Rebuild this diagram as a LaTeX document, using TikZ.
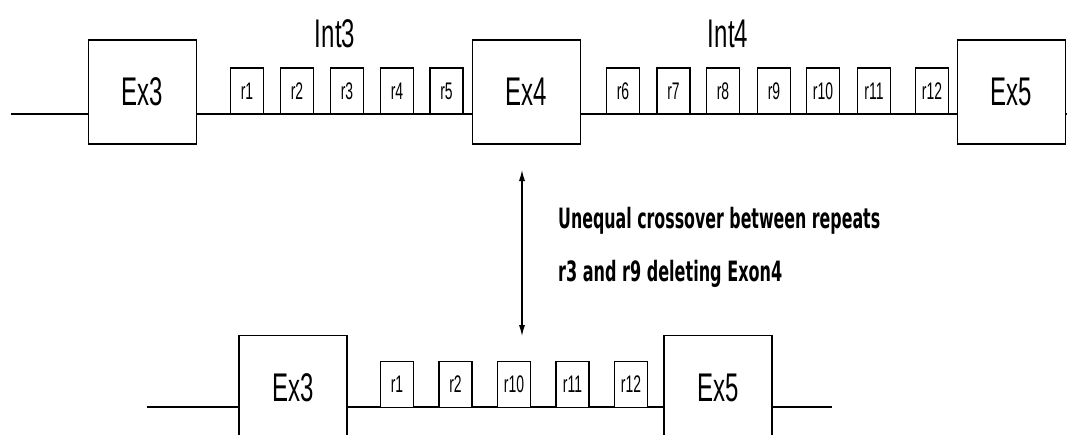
\documentclass[tikz,border=0pt]{standalone}
\usepackage{fontspec}
\usepackage{graphicx}
\usetikzlibrary{arrows.meta}
\newfontfamily\arialf{Liberation Sans}
\newfontfamily\dvsf{DejaVu Sans}
\newcommand{\exlab}[1]{\scalebox{0.6}[1]{\arialf\fontsize{40}{40}\selectfont #1}}
\newcommand{\rlab}[1]{\scalebox{0.58}[1]{\arialf\fontsize{24}{24}\selectfont #1}}
\tikzset{
  exonbox/.style={draw, line width=1.6pt, fill=white, inner sep=0pt, minimum width=108pt, minimum height=104pt},
  rbox/.style={draw, line width=1.4pt, fill=white, inner sep=0pt, minimum width=33pt, minimum height=46pt},
  intlab/.style={inner sep=0pt},
  chrom/.style={line width=1.8pt},
  note/.style={anchor=base west, inner sep=0pt},
}
\begin{document}
\begin{tikzpicture}[x=1pt,y=-1pt]
\useasboundingbox (0,0) rectangle (1067,434);
\clip (0,0) rectangle (1067,434);
% ---------- top row ----------
\coordinate (ls) at (11,114);
\coordinate (le) at (1067,114);
\node[exonbox] (ex3) at (142.5,92) {\exlab{Ex3}};
\node[exonbox] (ex4) at (526.5,92) {\exlab{Ex4}};
\node[exonbox] (ex5) at (1011.5,92) {\exlab{Ex5}};
\draw[chrom] (ls) -- (ls -| ex3.west);
\draw[chrom] (ls -| ex3.east) -- (ls -| ex4.west);
\draw[chrom] (ls -| ex4.east) -- (ls -| ex5.west);
\draw[chrom] (ls -| ex5.east) -- (le);
\node[rbox] (r1) at (247,91) {\rlab{r1}};
\node[rbox] (r2) at (297,91) {\rlab{r2}};
\node[rbox] (r3) at (347,91) {\rlab{r3}};
\node[rbox] (r4) at (397,91) {\rlab{r4}};
\node[rbox] (r5) at (446.5,91) {\rlab{r5}};
\node[rbox] (r6) at (623,91) {\rlab{r6}};
\node[rbox] (r7) at (673.5,91) {\rlab{r7}};
\node[rbox] (r8) at (723,91) {\rlab{r8}};
\node[rbox] (r9) at (774,91) {\rlab{r9}};
\node[rbox] (r10) at (823,91) {\rlab{r10}};
\node[rbox] (r11) at (874,91) {\rlab{r11}};
\node[rbox] (r12) at (932,91) {\rlab{r12}};
\node[intlab] (int3) at (335,34) {\exlab{Int3}};
\node[intlab] (int4) at (728,34) {\exlab{Int4}};
% ---------- arrow and note ----------
\coordinate (atop) at (522,170);
\coordinate (abot) at (522,336);
\draw[line width=1.1pt, {Latex[length=11pt,width=6pt]}-{Latex[length=11pt,width=6pt]}] (atop) -- (abot);
\node[note] (n1) at (558,228) {\resizebox{322pt}{\height}{\dvsf\bfseries\fontsize{28}{28}\selectfont Unequal crossover between repeats}};
\node[note] (n2) at (558,281) {\resizebox{224pt}{\height}{\dvsf\bfseries\fontsize{28}{28}\selectfont r3 and r9 deleting Exon4}};
% ---------- bottom row ----------
\coordinate (bs) at (147,407);
\coordinate (be) at (832,407);
\node[exonbox] (bex3) at (293,387.5) {\exlab{Ex3}};
\node[exonbox] (bex5) at (718,387.5) {\exlab{Ex5}};
\draw[chrom] (bs) -- (bs -| bex3.west);
\draw[chrom] (bs -| bex3.east) -- (bs -| bex5.west);
\draw[chrom] (bs -| bex5.east) -- (be);
\node[rbox] (b1) at (397,384.5) {\rlab{r1}};
\node[rbox] (b2) at (455.5,384.5) {\rlab{r2}};
\node[rbox] (b10) at (514,384.5) {\rlab{r10}};
\node[rbox] (b11) at (572.5,384.5) {\rlab{r11}};
\node[rbox] (b12) at (631,384.5) {\rlab{r12}};
\end{tikzpicture}
\end{document}
